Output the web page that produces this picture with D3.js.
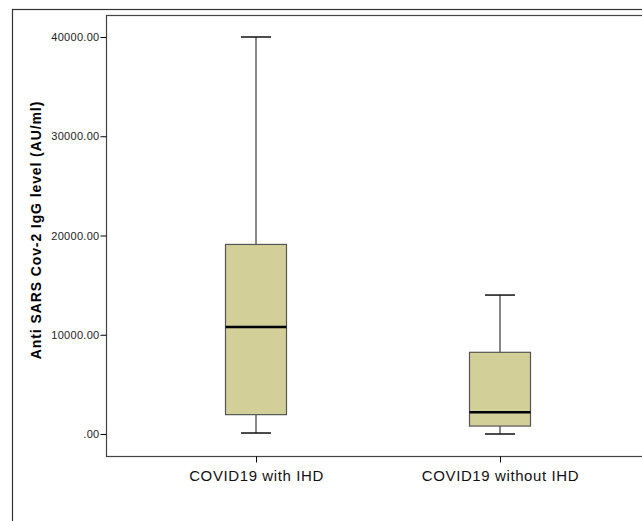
<!DOCTYPE html>
<html>
<head>
<meta charset="utf-8">
<script src="https://cdn.jsdelivr.net/npm/d3@7"></script>
<style>
  body { margin: 0; background: #fff; }
  text { font-family: "Liberation Sans", Arial, sans-serif; }
</style>
</head>
<body>
<div id="vis"></div>
<script>
var w = 642;
var h = 521;

// group names and box stats (whisker low, Q1, median, Q3, whisker high)
var groups = ['COVID19 with IHD', 'COVID19 without IHD'];
var lowWhisker = [100, 0];
var q1 = [1950, 800];
var median = [10780, 2190];
var q3 = [19100, 8230];
var highWhisker = [40000, 14000];
var yTicks = [0, 10000, 20000, 30000, 40000];

var svg = d3.select('#vis')
  .append('svg')
    .attr('width', w)
    .attr('height', h);

// outer frame
svg.append('rect')
  .attr('x', 12.5)
  .attr('y', 9.5)
  .attr('width', 700)
  .attr('height', 600)
  .style('fill', 'none')
  .style('stroke', '#333')
  .style('stroke-width', 1.2);

var plotLeft = 106, plotTop = 15, plotBottom = 456, plotRight = 780;

var y = d3.scaleLinear()
  .domain([0, 40000])
  .range([434, 37]);

var x = d3.scalePoint()
  .domain(groups)
  .range([256, 500]);

// plot frame
svg.append('rect')
  .attr('x', plotLeft + 0.5)
  .attr('y', plotTop + 0.5)
  .attr('width', plotRight - plotLeft)
  .attr('height', plotBottom - plotTop)
  .style('fill', 'none')
  .style('stroke', '#444')
  .style('stroke-width', 1.2);

var yAxis = d3.axisLeft(y)
  .tickValues(yTicks)
  .tickSize(6)
  .tickFormat(function(d) { return d === 0 ? '.00' : d3.format('.2f')(d); });

var gy = svg.append('g')
  .attr('transform', 'translate(' + (plotLeft + 0.5) + ',0)')
  .call(yAxis);
gy.select('.domain').remove();
gy.selectAll('text')
  .style('font-size', '11px')
  .style('letter-spacing', '0.3px')
  .style('fill', '#222')
  .attr('x', -7);

var xAxis = d3.axisBottom(x)
  .tickSize(6)
  .tickPadding(8);

var gx = svg.append('g')
  .attr('transform', 'translate(0,' + (plotBottom + 0.5) + ')')
  .call(xAxis);
gx.select('.domain').remove();
gx.selectAll('text')
  .style('font-size', '15px')
  .style('letter-spacing', '0.6px')
  .style('fill', '#111');

// y axis title
svg.append('text')
  .attr('transform', 'translate(41,230) rotate(-90)')
  .attr('text-anchor', 'middle')
  .style('font-size', '14px')
  .style('letter-spacing', '0.9px')
  .style('font-weight', 'bold')
  .text('Anti SARS Cov-2 IgG level (AU/ml)');

var boxW = 61, capW = 30;

var boxes = svg.selectAll('.box')
  .data(groups)
  .enter()
  .append('g')
    .attr('class', 'box');

// whiskers
boxes.append('line')
  .attr('x1', function(d) { return x(d); })
  .attr('x2', function(d) { return x(d); })
  .attr('y1', function(d, i) { return y(highWhisker[i]); })
  .attr('y2', function(d, i) { return y(q3[i]); })
  .style('stroke', '#111');
boxes.append('line')
  .attr('x1', function(d) { return x(d); })
  .attr('x2', function(d) { return x(d); })
  .attr('y1', function(d, i) { return y(q1[i]); })
  .attr('y2', function(d, i) { return y(lowWhisker[i]); })
  .style('stroke', '#111');

// caps
boxes.append('line')
  .attr('x1', function(d) { return x(d) - capW / 2; })
  .attr('x2', function(d) { return x(d) + capW / 2; })
  .attr('y1', function(d, i) { return y(highWhisker[i]); })
  .attr('y2', function(d, i) { return y(highWhisker[i]); })
  .style('stroke', '#111')
  .style('stroke-width', 1.5);
boxes.append('line')
  .attr('x1', function(d) { return x(d) - capW / 2; })
  .attr('x2', function(d) { return x(d) + capW / 2; })
  .attr('y1', function(d, i) { return y(lowWhisker[i]); })
  .attr('y2', function(d, i) { return y(lowWhisker[i]); })
  .style('stroke', '#111')
  .style('stroke-width', 1.5);

// box
boxes.append('rect')
  .attr('x', function(d) { return x(d) - boxW / 2; })
  .attr('y', function(d, i) { return y(q3[i]); })
  .attr('width', boxW)
  .attr('height', function(d, i) { return y(q1[i]) - y(q3[i]); })
  .style('fill', '#d3cf98')
  .style('stroke', '#555')
  .style('stroke-width', 1.2);

// median
boxes.append('line')
  .attr('x1', function(d) { return x(d) - boxW / 2; })
  .attr('x2', function(d) { return x(d) + boxW / 2; })
  .attr('y1', function(d, i) { return y(median[i]); })
  .attr('y2', function(d, i) { return y(median[i]); })
  .style('stroke', '#000')
  .style('stroke-width', 2.5);
</script>
</body>
</html>
